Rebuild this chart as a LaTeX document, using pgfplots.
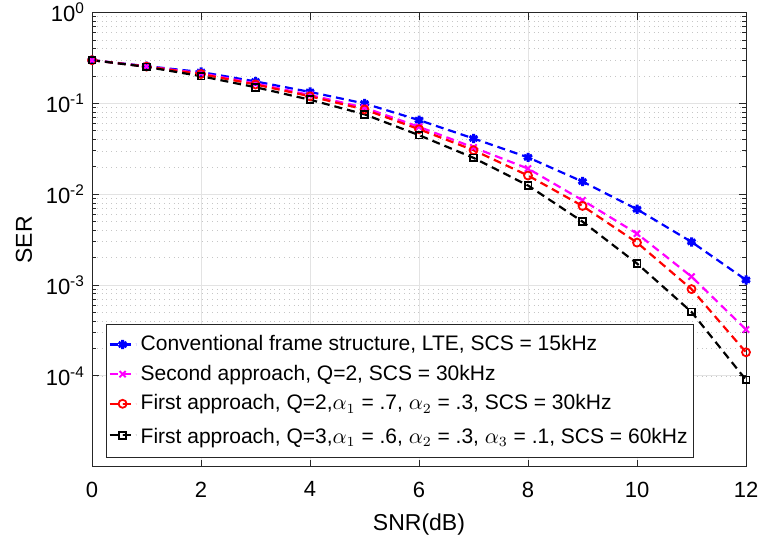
\documentclass[border=0pt]{standalone}
\usepackage{pgfplots}
\pgfplotsset{compat=1.18}
\usepackage{fontspec}
\setmainfont{Liberation Sans}
\colorlet{axgray}{black!85}
\definecolor{mlmag}{rgb}{1,0,1}

\begin{document}
\begin{tikzpicture}
% frame = 759 x 544 px at 0.5pt per px
\useasboundingbox (-46pt,-38.5pt) rectangle (333.5pt,233.35pt);
\begin{axis}[
  at={(0,0)}, anchor=south west,
  scale only axis,
  width=327pt, height=227pt,
  ymode=log,
  xmin=0, xmax=12, ymin=1e-5, ymax=1,
  xtick={0,2,...,12},
  ytick={1e-4,1e-3,1e-2,1e-1,1},
  yticklabels={10\textsuperscript{-4},10\textsuperscript{-3},10\textsuperscript{-2},10\textsuperscript{-1},10\textsuperscript{0}},
  /pgf/number format/assume math mode=true,
  tick label style={font=\fontsize{11}{13}\selectfont},
  label style={font=\fontsize{11.5}{13}\selectfont},
  xlabel={SNR(dB)}, ylabel={SER},
  xlabel style={at={(axis description cs:0.5,0)}, anchor=center, yshift=-29pt},
  ylabel style={at={(axis description cs:-0.104,0.5)}, anchor=center},
  xticklabel style={yshift=-4pt},
  xmajorgrids, ymajorgrids, yminorgrids,
  major grid style={gray!22, line width=0.5pt},
  minor grid style={gray!45, dotted, line width=0.4pt},
  axis line style={axgray, line width=0.5pt},
  tick style={axgray, line width=0.5pt},
  major tick length=3.5pt, minor tick length=2.2pt,
  tick align=inside,
  legend cell align=left,
  legend style={at={(rel axis cs:0.0214,0.0196)}, anchor=south west,
    draw=axgray, fill=white, line width=0.5pt,
    font=\fontsize{10.5}{12.5}\selectfont,
    inner xsep=1pt, inner ysep=3.5pt, row sep=1.7pt},
  legend image code/.code={
    \draw[mark repeat=2,mark phase=2] plot coordinates {(0pt,0pt) (6.5pt,0pt) (13pt,0pt)};
  },
  every axis plot/.append style={line width=1.1pt, dash pattern=on 4pt off 2.5pt},
]
\addplot[blue, mark=asterisk, mark size=2.3pt, mark options={solid, line width=1.5pt}]
  coordinates {(0,0.300) (1,0.258) (2,0.222) (3,0.175) (4,0.134) (5,0.100)
               (6,0.0656) (7,0.0412) (8,0.0255) (9,0.0138) (10,0.00684)
               (11,0.00299) (12,0.00114)};
\addlegendentry{Conventional frame structure, LTE, SCS = 15kHz}
\addplot[mlmag, mark=x, mark size=2.2pt, mark options={solid, line width=1pt}]
  coordinates {(0,0.300) (1,0.256) (2,0.215) (3,0.166) (4,0.124) (5,0.090)
               (6,0.0553) (7,0.0328) (8,0.0192) (9,0.0086) (10,0.00369)
               (11,0.00124) (12,0.000324)};
\addlegendentry{Second approach, Q=2, SCS = 30kHz}
\addplot[red, mark=o, mark size=2pt, mark options={solid, line width=0.9pt}]
  coordinates {(0,0.300) (1,0.255) (2,0.211) (3,0.162) (4,0.120) (5,0.086)
               (6,0.0521) (7,0.0306) (8,0.0161) (9,0.00744) (10,0.00294)
               (11,0.000903) (12,0.000182)};
\addlegendentry{First approach, Q=2,$\alpha_1$ = .7, $\alpha_2$ = .3, SCS = 30kHz}
\addplot[black, mark=square, mark size=1.7pt, mark options={solid, line width=0.9pt}]
  coordinates {(0,0.300) (1,0.253) (2,0.200) (3,0.151) (4,0.110) (5,0.076)
               (6,0.0448) (7,0.0252) (8,0.0125) (9,0.0050) (10,0.00173)
               (11,0.000506) (12,0.0000904)};
\addlegendentry{\rule{0pt}{9.5pt}First approach, Q=3,$\alpha_1$ = .6, $\alpha_2$ = .3, $\alpha_3$ = .1, SCS = 60kHz}
\end{axis}
\end{tikzpicture}
\end{document}
